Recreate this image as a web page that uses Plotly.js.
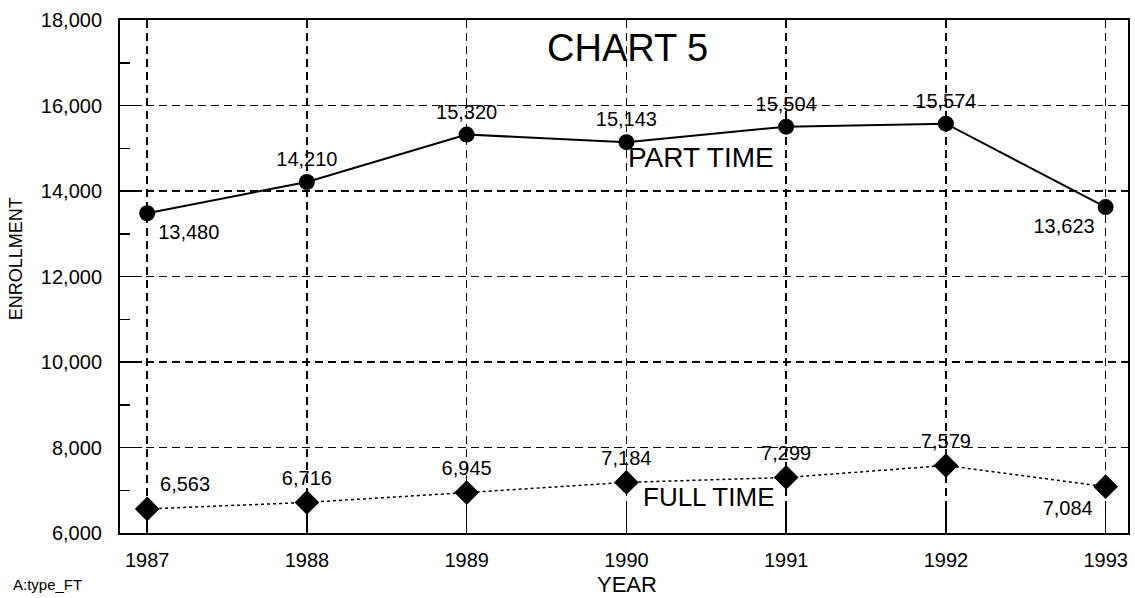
<!DOCTYPE html>
<html>
<head>
<meta charset="utf-8">
<script src="https://cdn.plot.ly/plotly-3.0.1.min.js"></script>
<style>body{margin:0;background:#fff}#chart{width:1135px;height:598px}</style>
</head>
<body>
<div id="chart"></div>
<script>
const years = [1987, 1988, 1989, 1990, 1991, 1992, 1993];
const partTime = [13480, 14210, 15320, 15143, 15504, 15574, 13623];
const fullTime = [6563, 6716, 6945, 7184, 7299, 7579, 7084];
const partTimeLabelPos = ['bottom right', 'top center', 'top center', 'top center', 'top center', 'top center', 'bottom left'];
const fullTimeLabelPos = ['top right', 'top center', 'top center', 'top center', 'top center', 'top center', 'bottom left'];
const yTicks = [6000, 8000, 10000, 12000, 14000, 16000, 18000];
const yTickText = ['6,000', '8,000', '10,000', '12,000', '14,000', '16,000', '18,000'];

const fmt = v => v.toLocaleString('en-US');
const FONT = 'Arial, "Liberation Sans", sans-serif';

const traces = [
  {
    x: years, y: partTime, type: 'scatter', mode: 'lines+markers+text',
    name: 'PART TIME',
    line: {color: '#000', width: 2},
    marker: {symbol: 'circle', size: 16, color: '#000'},
    text: partTime.map(fmt), textposition: partTimeLabelPos,
    textfont: {family: FONT, size: 20, color: '#000'},
    cliponaxis: false
  },
  {
    x: years, y: fullTime, type: 'scatter', mode: 'lines+markers+text',
    name: 'FULL TIME',
    line: {color: '#000', width: 1.5, dash: 'dot'},
    marker: {symbol: 'diamond', size: 19, color: '#000'},
    text: fullTime.map(fmt), textposition: fullTimeLabelPos,
    textfont: {family: FONT, size: 20, color: '#000'},
    cliponaxis: false
  }
];

const layout = {
  width: 1135, height: 598,
  margin: {l: 120, r: 7, t: 20, b: 65},
  paper_bgcolor: '#fff', plot_bgcolor: '#fff',
  showlegend: false,
  font: {family: FONT, size: 20, color: '#000'},
  xaxis: {
    range: [1986.83, 1993.14],
    tickvals: years, ticktext: years.map(String),
    ticks: 'inside', ticklen: 25, tickwidth: 1.5, tickcolor: '#000',
    ticklabelstandoff: 8,
    showline: true, linecolor: '#000', linewidth: 2, mirror: true,
    showgrid: true, gridcolor: '#000', gridwidth: 1.5, griddash: '8px,5px',
    zeroline: false,
    tickfont: {family: FONT, size: 20, color: '#000'}
  },
  yaxis: {
    range: [6000, 18000],
    tickvals: yTicks, ticktext: yTickText,
    ticks: 'inside', ticklen: 22, tickwidth: 1.5, tickcolor: '#000',
    ticklabelstandoff: 12,
    minor: {dtick: 1000, ticks: 'inside', ticklen: 10, tickwidth: 1.5, tickcolor: '#000', showgrid: false},
    showline: true, linecolor: '#000', linewidth: 2, mirror: true,
    showgrid: true, gridcolor: '#000', gridwidth: 1.5, griddash: '8px,5px',
    zeroline: false,
    tickfont: {family: FONT, size: 20, color: '#000'}
  },
  annotations: [
    {text: 'CHART 5', xref: 'paper', yref: 'paper', x: 0.503, y: 0.945, xanchor: 'center', yanchor: 'middle', showarrow: false, font: {family: FONT, size: 38, color: '#000'}},
    {text: 'PART TIME', xref: 'paper', yref: 'paper', x: 0.502, y: 0.731, xanchor: 'left', yanchor: 'middle', showarrow: false, font: {family: FONT, size: 28, color: '#000'}},
    {text: 'FULL TIME', xref: 'paper', yref: 'paper', x: 0.517, y: 0.07, xanchor: 'left', yanchor: 'middle', showarrow: false, font: {family: FONT, size: 26, color: '#000'}},
    {text: 'YEAR', xref: 'paper', yref: 'paper', x: 0.503, y: -0.101, xanchor: 'center', yanchor: 'middle', showarrow: false, font: {family: FONT, size: 22, color: '#000'}},
    {text: 'ENROLLMENT', xref: 'paper', yref: 'paper', x: -0.103, y: 0.534, xanchor: 'center', yanchor: 'middle', textangle: -90, showarrow: false, font: {family: FONT, size: 18, color: '#000'}},
    {text: 'A:type_FT', xref: 'paper', yref: 'paper', x: -0.108, y: -0.101, xanchor: 'left', yanchor: 'middle', showarrow: false, font: {family: FONT, size: 15, color: '#000'}}
  ]
};

Plotly.newPlot('chart', traces, layout, {displayModeBar: false, staticPlot: true});
</script>
</body>
</html>
